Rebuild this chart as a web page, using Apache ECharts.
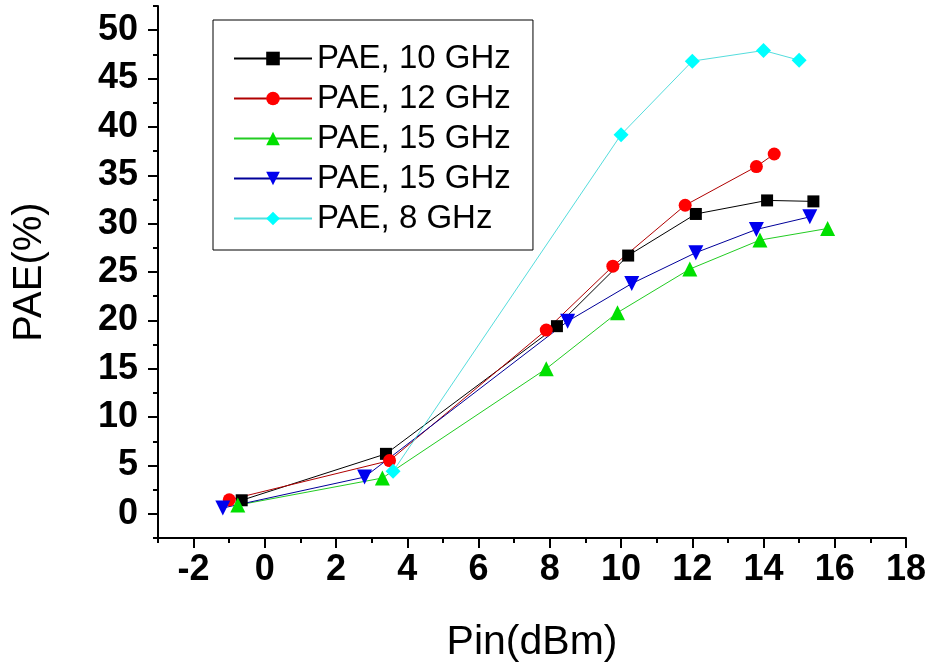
<!DOCTYPE html>
<html>
<head>
<meta charset="utf-8">
<script src="https://cdn.jsdelivr.net/npm/echarts@6/dist/echarts.min.js"></script>
<style>html,body{margin:0;padding:0;background:#fff}#c{width:939px;height:672px}</style>
</head>
<body>
<div id="c"></div>
<script>
const seriesNames = ['PAE, 10 GHz', 'PAE, 12 GHz', 'PAE, 15 GHz', 'PAE, 15 GHz ', 'PAE, 8 GHz'];
const pae10 = [[-0.65, 1.4], [3.4, 6.2], [8.2, 19.4], [10.2, 26.7], [12.1, 31.0], [14.1, 32.4], [15.4, 32.3]];
const pae12 = [[-1.0, 1.45], [3.5, 5.5], [7.9, 19.0], [9.77, 25.6], [11.8, 31.9], [13.8, 35.9], [14.3, 37.2]];
const pae15a = [[-0.76, 0.9], [3.3, 3.7], [7.9, 15.0], [9.9, 20.8], [11.93, 25.3], [13.9, 28.3], [15.8, 29.5]];
const pae15b = [[-1.18, 0.6], [2.8, 3.8], [8.5, 19.9], [10.3, 23.8], [12.1, 27.0], [13.8, 29.4], [15.3, 30.7]];
const pae8 = [[3.6, 4.4], [10.0, 39.2], [12.0, 46.8], [14.0, 47.9], [15.0, 46.9]];
const xTicks = [-2, 0, 2, 4, 6, 8, 10, 12, 14, 16, 18];
const yTicks = [0, 5, 10, 15, 20, 25, 30, 35, 40, 45, 50];

const FONT = 'Liberation Sans, Arial, sans-serif';
const DIAMOND = 'path://M0,-1L1,0L0,1L-1,0Z';
const chart = echarts.init(document.getElementById('c'));
const axLine = {show: true, onZero: false, lineStyle: {color: '#000', width: 2}};
function mk(name, data, color, lineColor, symbol, size, rot) {
  return {
    name: name, type: 'line', data: data, xAxisIndex: 0, yAxisIndex: 0,
    symbol: symbol, symbolSize: size, symbolRotate: rot || 0,
    itemStyle: {color: color}, lineStyle: {color: lineColor, width: 1},
    emphasis: {disabled: true}, animation: false
  };
}
chart.setOption({
  animation: false,
  backgroundColor: '#fff',
  grid: {left: 158, right: 33, top: 6, bottom: 134, containLabel: false},
  legend: {
    orient: 'vertical', left: 213, top: 20,
    padding: [22, 13, 15, 20], itemGap: 7, itemWidth: 78, itemHeight: 17,
    borderColor: '#000', borderWidth: 1,
    textStyle: {fontSize: 33, fontFamily: FONT, color: '#000', lineHeight: 32},
    data: seriesNames
  },
  xAxis: [{
    type: 'value', min: -3, max: 18, interval: 1,
    axisLine: axLine, splitLine: {show: false},
    axisTick: {show: true, length: 5, lineStyle: {color: '#000', width: 2}},
    axisLabel: {show: false},
    name: 'Pin(dBm)', nameLocation: 'middle', nameGap: 84,
    nameTextStyle: {fontSize: 41, fontFamily: FONT, color: '#000'}
  }, {
    type: 'value', min: -3, max: 18, position: 'bottom',
    axisLine: {show: false, onZero: false}, splitLine: {show: false},
    axisTick: {show: true, length: 10, customValues: xTicks, lineStyle: {color: '#000', width: 2}},
    axisLabel: {show: true, customValues: xTicks, margin: 14, fontSize: 36, fontWeight: 'bold', fontFamily: FONT, color: '#000'}
  }],
  yAxis: [{
    type: 'value', min: -2.5, max: 52.5, interval: 2.5,
    axisLine: axLine, splitLine: {show: false},
    axisTick: {show: true, length: 5, lineStyle: {color: '#000', width: 2}},
    axisLabel: {show: false},
    name: 'PAE(%)', nameLocation: 'middle', nameGap: 108, nameRotate: 90,
    nameTextStyle: {fontSize: 40, fontFamily: FONT, color: '#000'}
  }, {
    type: 'value', min: -2.5, max: 52.5, position: 'left',
    axisLine: {show: false, onZero: false}, splitLine: {show: false},
    axisTick: {show: true, length: 10, customValues: yTicks, lineStyle: {color: '#000', width: 2}},
    axisLabel: {show: true, customValues: yTicks, margin: 20, fontSize: 36, fontWeight: 'bold', fontFamily: FONT, color: '#000'}
  }],
  series: [
    mk(seriesNames[0], pae10, '#000000', '#000000', 'rect', 12),
    mk(seriesNames[1], pae12, '#ff0000', '#b00000', 'circle', 13),
    mk(seriesNames[2], pae15a, '#00e000', '#22cc22', 'triangle', 15),
    mk(seriesNames[3], pae15b, '#0000ee', '#000099', 'triangle', 15, 180),
    mk(seriesNames[4], pae8, '#00ffff', '#55dddd', DIAMOND, 15)
  ]
});
</script>
</body>
</html>
